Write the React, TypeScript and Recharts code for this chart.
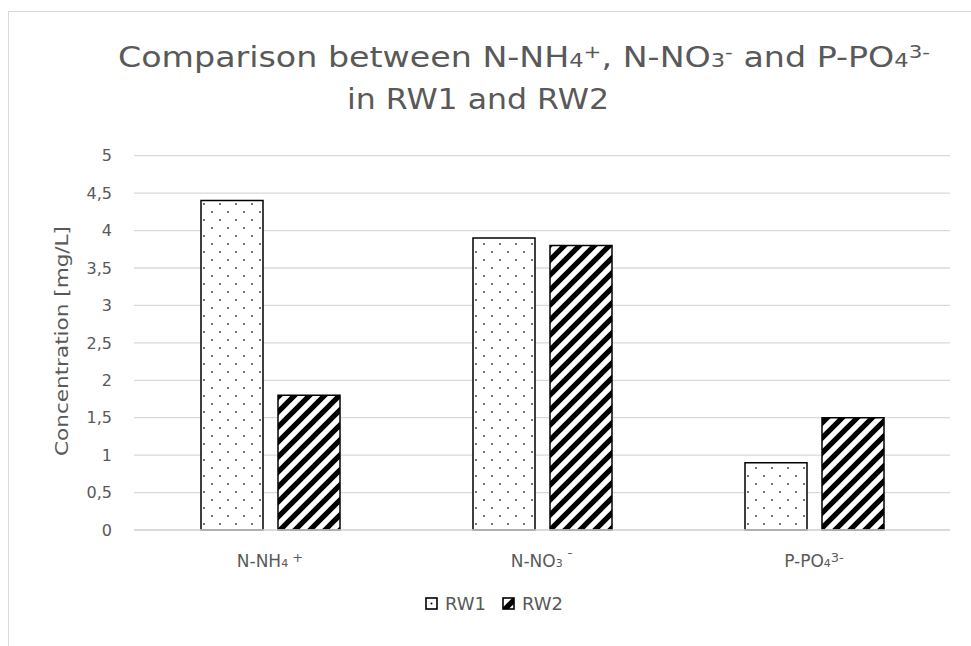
import React from 'react';
import { BarChart, Bar, XAxis, YAxis, CartesianGrid, Legend } from 'recharts';

// Nutrient species on the category axis
const categories = ['N-NH4+', 'N-NO3-', 'P-PO43-'];
// Concentrations in mg/L
const rw1Values = [4.4, 3.9, 0.9];
const rw2Values = [1.8, 3.8, 1.5];
const yTicks = [0, 0.5, 1, 1.5, 2, 2.5, 3, 3.5, 4, 4.5, 5];
const seriesNames = ['RW1', 'RW2'];

const data = categories.map((c, i) => ({ name: c, RW1: rw1Values[i], RW2: rw2Values[i] }));

const FONT = '"DejaVu Sans", "Open Sans", sans-serif';
const TEXT = '#595959';
const GRID = '#d9d9d9';

// label pieces: base text, small subscript digit, superscript charge
const labelParts: Record<string, { t: string; k: 'n' | 'sub' | 'sup' }[]> = {
  'N-NH4+': [{ t: 'N-NH', k: 'n' }, { t: '4', k: 'sub' }, { t: ' +', k: 'sup' }],
  'N-NO3-': [{ t: 'N-NO', k: 'n' }, { t: '3', k: 'sub' }, { t: ' \u02C9', k: 'sup' }],
  'P-PO43-': [{ t: 'P-PO', k: 'n' }, { t: '4', k: 'sub' }, { t: '3-', k: 'sup' }],
};

const CategoryTick = (props: any) => {
  const { x, y, payload } = props;
  const parts = labelParts[payload.value] || [{ t: payload.value, k: 'n' }];
  return (
    <text x={x} y={y + 29} textAnchor="middle" fill={TEXT} fontFamily={FONT} fontSize={17}>
      {parts.map((p, i) => {
        const prev = i > 0 ? parts[i - 1].k : 'n';
        const shift = p.k === 'sup' && prev !== 'sup' ? -5 : p.k !== 'sup' && prev === 'sup' ? 5 : 0;
        return (
          <tspan key={i} fontSize={p.k === 'n' ? 17 : p.k === 'sub' ? 11 : 13} dy={shift}>
            {p.t}
          </tspan>
        );
      })}
    </text>
  );
};

const YLabel = () => (
  <text
    x={62}
    y={341}
    transform="rotate(-90 62 341)"
    textAnchor="middle"
    dominantBaseline="central"
    fill={TEXT}
    fontFamily={FONT}
    fontSize={17}
    textLength={230}
    lengthAdjust="spacingAndGlyphs"
  >
    Concentration [mg/L]
  </text>
);

const PatternDefs = ({ prefix }: { prefix: string }) => (
  <defs>
    <pattern id={`${prefix}-dots`} width={16} height={16} patternUnits="userSpaceOnUse">
      <rect width={16} height={16} fill="#fff" />
      <circle cx={4} cy={4} r={0.9} fill="#333" />
      <circle cx={12} cy={12} r={0.9} fill="#333" />
    </pattern>
    <pattern id={`${prefix}-hatch`} width={15} height={15} patternUnits="userSpaceOnUse">
      <rect width={15} height={15} fill="#fff" />
      <path
        d="M-3.75,3.75 L3.75,-3.75 M0,15 L15,0 M11.25,18.75 L18.75,11.25"
        stroke="#000"
        strokeWidth={5.2}
      />
    </pattern>
  </defs>
);

const LegendContent = () => (
  <div style={{ display: 'flex', alignItems: 'center', fontFamily: FONT, fontSize: 18, color: TEXT }}>
    {seriesNames.map((n, i) => (
      <div key={n} style={{ display: 'flex', alignItems: 'center', marginRight: i === 0 ? 16 : 0 }}>
        <svg width={13} height={13} style={{ marginRight: 7 }}>
          <PatternDefs prefix={`lg${i}`} />
          <rect
            x={1}
            y={1}
            width={11}
            height={11}
            fill={i === 0 ? '#fff' : `url(#lg${i}-hatch)`}
            stroke="#000"
            strokeWidth={1.6}
          />
          {i === 0 && <circle cx={6.5} cy={6.5} r={1} fill="#000" />}
        </svg>
        <span>{n}</span>
      </div>
    ))}
  </div>
);

export default function App() {
  return (
    <div style={{ position: 'fixed', inset: 0, overflow: 'hidden', background: '#fff' }}>
      <div
        style={{
          position: 'absolute',
          left: 8,
          top: 11,
          width: 1000,
          height: 700,
          borderLeft: `1px solid ${GRID}`,
          borderTop: `1px solid ${GRID}`,
        }}
      />
      <div style={{ position: 'absolute', left: 0, top: 0 }}>
        <BarChart
          width={971}
          height={646}
          data={data}
          margin={{ top: 155.7, right: 21, bottom: 65, left: 74 }}
          barCategoryGap={67}
          barGap={15}
        >
          <PatternDefs prefix="bar" />
          <CartesianGrid vertical={false} stroke={GRID} strokeWidth={1.3} />
          <XAxis
            dataKey="name"
            height={30}
            axisLine={{ stroke: GRID, strokeWidth: 1.3 }}
            tickLine={false}
            tick={<CategoryTick />}
            interval={0}
          />
          <YAxis
            width={60}
            domain={[0, 5]}
            ticks={yTicks}
            axisLine={false}
            tickLine={false}
            tickMargin={16}
            tick={{ fill: TEXT, fontFamily: FONT, fontSize: 16 }}
            tickFormatter={(v: number) => String(v).replace('.', ',')}
            label={<YLabel />}
          />
          <Legend
            content={<LegendContent />}
            wrapperStyle={{ position: 'absolute', left: 425, top: 593, width: 'auto' }}
          />
          <Bar dataKey="RW1" fill="url(#bar-dots)" stroke="#000" strokeWidth={1.5} isAnimationActive={false} />
          <Bar dataKey="RW2" fill="url(#bar-hatch)" stroke="#000" strokeWidth={1.5} isAnimationActive={false} />
        </BarChart>
      </div>
      <svg width={971} height={130} style={{ position: 'absolute', left: 0, top: 0, pointerEvents: 'none' }}>
        <text
          x={118}
          y={67}
          fill={TEXT}
          fontFamily={FONT}
          fontSize={28}
          textLength={812}
          lengthAdjust="spacingAndGlyphs"
        >
          Comparison between N-NH<tspan fontSize={19}>4</tspan>
          <tspan fontSize={18} dy={-9}>+</tspan>
          <tspan dy={9}>, N-NO</tspan>
          <tspan fontSize={19}>3</tspan>
          <tspan fontSize={18} dy={-9}>-</tspan>
          <tspan dy={9}> and P-PO</tspan>
          <tspan fontSize={19}>4</tspan>
          <tspan fontSize={18} dy={-9}>3-</tspan>
        </text>
        <text
          x={347}
          y={109}
          fill={TEXT}
          fontFamily={FONT}
          fontSize={28}
          textLength={262}
          lengthAdjust="spacingAndGlyphs"
        >
          in RW1 and RW2
        </text>
      </svg>
    </div>
  );
}
